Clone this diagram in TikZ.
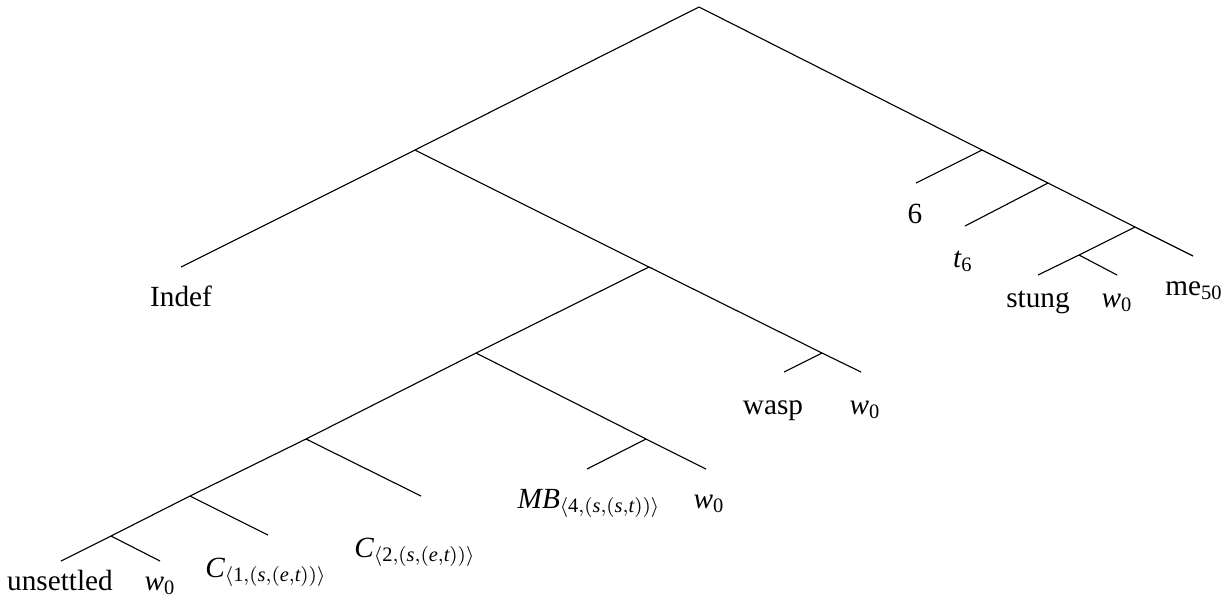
\documentclass[tikz,border=0pt]{standalone}
\usepackage{amsmath}
\usepackage{fontspec}
\setmainfont{Liberation Serif}
\newcommand{\vi}[1]{\textit{#1}}
\newcommand{\wnull}{$\vi{w}_{\textup{0}}$}
\begin{document}
\begin{tikzpicture}[x=0.4pt,y=-0.4pt,
    leaf/.style={anchor=base, inner sep=0pt, font=\fontsize{11.7pt}{14pt}\selectfont},
    every path/.style={line width=0.45pt}]
      \useasboundingbox (0,0) rectangle (1225,608);
      \draw
        (699,7) coordinate (s)
        (415,150) coordinate (dp)
        (649,267) coordinate (np)
        (476,353) coordinate (n3)
        (306,439) coordinate (n4)
        (190,496) coordinate (n5)
        (111,536) coordinate (n6)
        (646,439) coordinate (mbp)
        (822,353) coordinate (waspp)
        (982,150) coordinate (r1)
        (1048,183) coordinate (r2)
        (1135,227) coordinate (r3)
        (1079,255) coordinate (vp);
      \draw
        (181,267) coordinate (indef)
        (61,561) coordinate (unsettled)
        (160,561) coordinate (w0a)
        (268,535) coordinate (c1)
        (421,496) coordinate (c2)
        (587,469) coordinate (mb)
        (706,469) coordinate (w0b)
        (784,372) coordinate (wasp)
        (861,372) coordinate (w0c)
        (916,183) coordinate (six)
        (965,226) coordinate (t6)
        (1038,275) coordinate (stung)
        (1117,275) coordinate (w0d)
        (1193,256) coordinate (me);
      \begin{scope}[-]
        \draw (s) to (dp);
        \draw (dp) to (indef);
        \draw (dp) to (np);
        \draw (np) to (n3);
        \draw (np) to (waspp);
        \draw (waspp) to (wasp);
        \draw (waspp) to (w0c);
        \draw (n3) to (n4);
        \draw (n3) to (mbp);
        \draw (mbp) to (mb);
        \draw (mbp) to (w0b);
        \draw (n4) to (n5);
        \draw (n4) to (c2);
        \draw (n5) to (n6);
        \draw (n5) to (c1);
        \draw (n6) to (unsettled);
        \draw (n6) to (w0a);
        \draw (s) to (r1);
        \draw (r1) to (six);
        \draw (r1) to (r2);
        \draw (r2) to (t6);
        \draw (r2) to (r3);
        \draw (r3) to (vp);
        \draw (r3) to (me);
        \draw (vp) to (stung);
        \draw (vp) to (w0d);
      \end{scope}
      % leaf labels
      \node[leaf] (indef-l) at (181,306) {Indef};
      \node[leaf] (unsettled-l) at (60,590) {unsettled};
      \node[leaf] (w0a-l) at (160,590) {\wnull};
      \node[leaf] (c1-l) at (266,577) {$\vi{C}_{\langle\textup{1},(\vi{s},(\vi{e},\vi{t}))\rangle}$};
      \node[leaf] (c2-l) at (415,557) {$\vi{C}_{\langle\textup{2},(\vi{s},(\vi{e},\vi{t}))\rangle}$};
      \node[leaf] (mb-l) at (589,508) {$\vi{MB}_{\langle\textup{4},(\vi{s},(\vi{s},\vi{t}))\rangle}$};
      \node[leaf] (w0b-l) at (709,508) {\wnull};
      \node[leaf] (wasp-l) at (773,414) {wasp};
      \node[leaf] (w0c-l) at (865,414) {\wnull};
      \node[leaf] (six-l) at (915,223) {6};
      \node[leaf] (t6-l) at (963,267) {$\vi{t}_{\textup{6}}$};
      \node[leaf] (stung-l) at (1038,307) {stung};
      \node[leaf] (w0d-l) at (1117,307) {\wnull};
      \node[leaf] (me-l) at (1194,295) {me\textsubscript{50}};
    \end{tikzpicture}
\end{document}
